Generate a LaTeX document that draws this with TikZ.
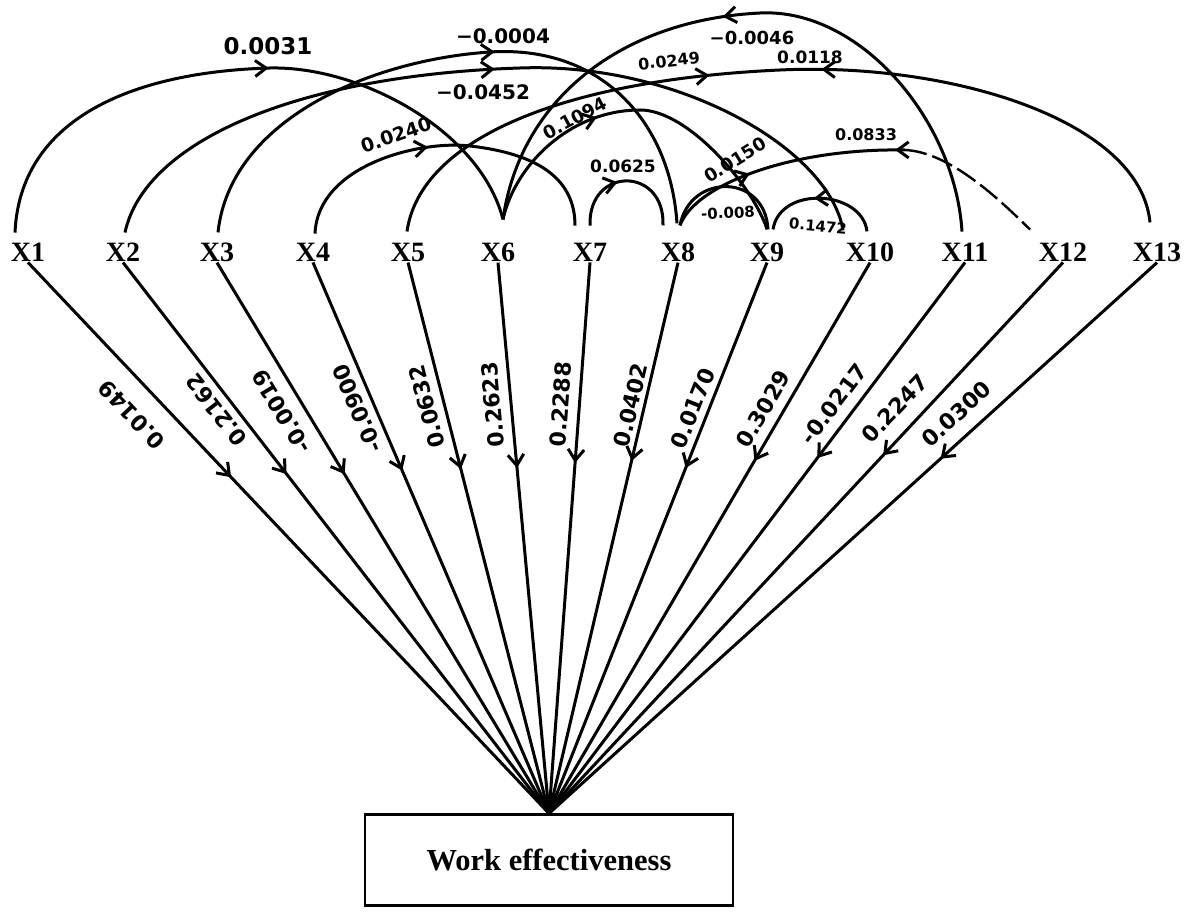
\documentclass[tikz,border=0pt]{standalone}
\usepackage{fontspec}
\setmainfont{Liberation Serif}
\newfontfamily\numfont{DejaVu Sans}
\usetikzlibrary{arrows.meta,decorations.markings}
\begin{document}
\begin{tikzpicture}[x=1pt,y=-1pt,
  xl/.style={font=\fontsize{28}{30}\selectfont\bfseries, inner sep=1pt},
  wire/.style={line width=3pt},
  fw/.style={postaction={decorate,decoration={markings,mark=at position #1 with {\arrow{Straight Barb[length=11pt,width=16pt]}}}}},
  bw/.style={postaction={decorate,decoration={markings,mark=at position #1 with {\arrowreversed{Straight Barb[length=11pt,width=16pt]}}}}},
  lab/.style={font=\numfont\bfseries\fontsize{#1}{#1}\selectfont, inner sep=1pt},
  lab/.default=22,
  ll/.style={lab=22, sloped, allow upside down}
]
\fill[white] (0,0) rectangle (1185,912);
\useasboundingbox (0,0) rectangle (1185,912);

% variable nodes
\node[xl] (X1) at (28,252) {X1};
\node[xl] (X2) at (123,252) {X2};
\node[xl] (X3) at (217,252) {X3};
\node[xl] (X4) at (313,252) {X4};
\node[xl] (X5) at (408,252) {X5};
\node[xl] (X6) at (498,252) {X6};
\node[xl] (X7) at (590,252) {X7};
\node[xl] (X8) at (678,252) {X8};
\node[xl] (X9) at (767,252) {X9};
\node[xl] (X10) at (870,252) {X10};
\node[xl] (X11) at (965,252) {X11};
\node[xl] (X12) at (1063,252) {X12};
\node[xl] (X13) at (1157,252) {X13};

% outcome box
\node[draw, line width=2.2pt, minimum width=368pt, minimum height=91pt, inner sep=0pt,
      font=\fontsize{30.5}{32}\selectfont\bfseries] (we) at (549,860) {Work effectiveness};

% straight paths to the outcome
\draw[wire, fw=0.39]  (X1.south) -- (we.north);
\draw[wire, fw=0.384] (X2.south) -- (we.north);
\draw[wire, fw=0.384] (X3.south) -- (we.north);
\draw[wire, fw=0.378] (X4.south) -- (we.north);
\draw[wire, fw=0.375] (X5.south) -- (we.north);
\draw[wire, fw=0.373] (X6.south) -- (we.north);
\draw[wire, fw=0.364] (X7.south) -- (we.north);
\draw[wire, fw=0.36]  (X8.south) -- (we.north);
\draw[wire, fw=0.373] (X9.south) -- (we.north);
\draw[wire, fw=0.36]  (X10.south) -- (we.north);
\draw[wire, fw=0.355] (X11.south) -- (we.north);
\draw[wire, fw=0.35]  (X12.south) -- (we.north);
\draw[wire, fw=0.356] (X13.south) -- (we.north);

% labels of the straight paths
\path (we.north) -- node[ll, pos=.76,  above=20pt] (n1)  {0.0149}  (X1.south);
\path (we.north) -- node[ll, pos=.75,  above=7pt]  (n2)  {0.2162}  (X2.south);
\path (we.north) -- node[ll, pos=.75,  above=12pt] (n3)  {-0.0019} (X3.south);
\path (we.north) -- node[ll, pos=.747, above=7pt]  (n4)  {-0.0900} (X4.south);
\path (we.north) -- node[ll, pos=.746, above=8pt]  (n5)  {0.0632}  (X5.south);
\path (we.north) -- node[ll, pos=.745, above=9pt]  (n6)  {0.2623}  (X6.south);
\path (we.north) -- node[ll, pos=.74,  above=9pt]  (n7)  {0.2288}  (X7.south);
\path (we.north) -- node[ll, pos=.735, above=4pt]  (n8)  {0.0402}  (X8.south);
\path (we.north) -- node[ll, pos=.725, above=6pt]  (n9)  {0.0170}  (X9.south);
\path (we.north) -- node[ll, pos=.717, above=9pt]  (n10) {0.3029}  (X10.south);
\path (we.north) -- node[ll, pos=.722, above=10pt] (n11) {-0.0217} (X11.south);
\path (we.north) -- node[ll, pos=.706, above=14pt] (n12) {0.2247}  (X12.south);
\path (we.north) -- node[ll, pos=.695, above=13pt] (n13) {0.0300}  (X13.south);

% curved paths between variables
% X1 -> X6
\draw[wire, fw=0.53] ([shift={(-13,-9)}]X1.north) .. controls (20,120) and (130,72) .. (270,68)
   .. controls (360,66) and (480,130) .. ([shift={(5,-22)}]X6.north);
% X2 -> X10
\draw[wire, fw=0.51] ([shift={(2,-9)}]X2.north) .. controls (145,140) and (300,75) .. (520,68)
   .. controls (680,62) and (830,150) .. ([shift={(-27,-11)}]X10.north);
% X3 -> X8
\draw[wire, fw=0.56] ([shift={(1,-9)}]X3.north) .. controls (230,120) and (370,60) .. (490,52)
   .. controls (600,45) and (670,120) .. ([shift={(-1,-18)}]X8.north);
% X4 -> X7
\draw[wire, fw=0.45] ([shift={(2,-8)}]X4.north) .. controls (318,165) and (420,140) .. (470,146)
   .. controls (540,154) and (575,180) .. ([shift={(-15,-16)}]X7.north);
% X5 <-> X13
\draw[wire, fw=0.42, bw=0.55] ([shift={(-1,-10)}]X5.north) .. controls (420,140) and (560,80) .. (780,70)
   .. controls (950,62) and (1140,120) .. ([shift={(-7,-19)}]X13.north);
% X11 -> X6
\draw[wire, fw=0.53] ([shift={(-3,-10)}]X11.north) .. controls (955,120) and (860,8) .. (760,13)
   .. controls (620,20) and (520,100) .. ([shift={(5,-22)}]X6.north);
% X6 -> X9
\draw[wire, fw=0.39] ([shift={(5,-22)}]X6.north) .. controls (515,165) and (570,110) .. (640,110)
   .. controls (690,110) and (755,190) .. ([shift={(0,-12)}]X9.north);
% X7 -> X8
\draw[wire, fw=0.43] ([shift={(0,-16)}]X7.north) .. controls (588,166) and (665,166) .. ([shift={(-15,-16)}]X8.north);
% X8 -> X9
\draw[wire] ([shift={(2,-16)}]X8.north) .. controls (690,173) and (765,173) .. ([shift={(1,-12)}]X9.north);
% X8 <-> X12
\coordinate (j) at (905,150);
\draw[wire, fw=0.36, bw=0.96] ([shift={(2,-16)}]X8.north) .. controls (695,185) and (790,148) .. (j);
\draw[line width=2.4pt, dash pattern=on 22pt off 6pt] (j) .. controls (950,152) and (1000,200) .. ([shift={(-33,-12)}]X12.north);
% X10 -> X9
\draw[wire, fw=0.55] ([shift={(-3,-10)}]X10.north) .. controls (862,190) and (780,185) .. ([shift={(6,-12)}]X9.north);

% labels of the curved paths
\node[lab=23] (t1) at (268,46) {0.0031};
\node[lab=20] (t2) at (503,36) {−0.0004};
\node[lab=20] (t3) at (483,92) {−0.0452};
\node[lab=19, rotate=19] (t4) at (396,135) {0.0240};
\node[lab=18, rotate=28] (t5) at (575,118) {0.1094};
\node[lab=16, rotate=6] (t6) at (669,61) {0.0249};
\node[lab=18] (t7) at (752,38) {−0.0046};
\node[lab=17] (t8) at (810,57) {0.0118};
\node[lab=16] (t9) at (866,135) {0.0833};
\node[lab=17] (t10) at (623,166) {0.0625};
\node[lab=18, rotate=32] (t11) at (735,160) {0.0150};
\node[lab=15, rotate=3] (t12) at (728,213) {-0.008};
\node[lab=15, rotate=-5] (t13) at (818,226) {0.1472};
\end{tikzpicture}
\end{document}
